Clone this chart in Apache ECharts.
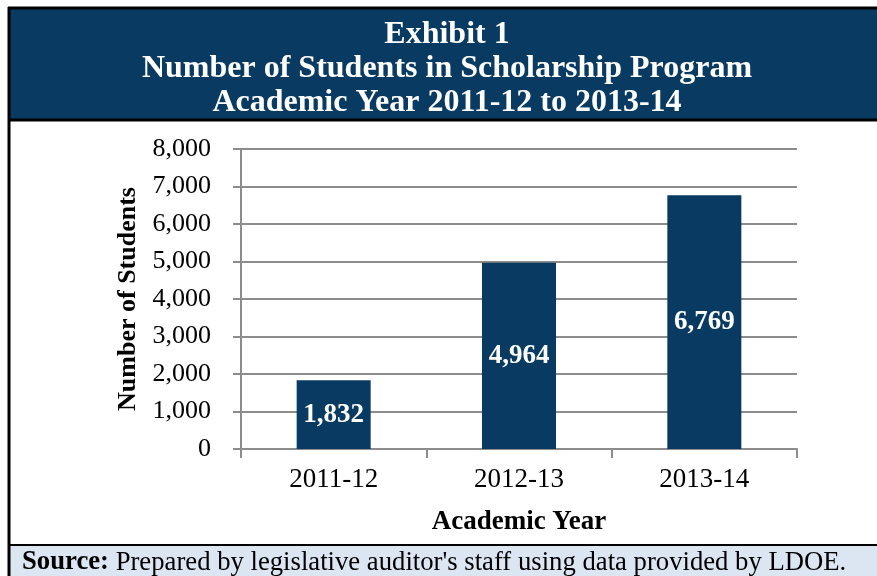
<!DOCTYPE html>
<html>
<head>
<meta charset="utf-8">
<script src="https://cdn.jsdelivr.net/npm/echarts@6/dist/echarts.min.js"></script>
<style>html,body{margin:0;padding:0;background:#fff}#c{width:877px;height:576px}</style>
</head>
<body>
<div id="c"></div>
<script>
var categories = ['2011-12', '2012-13', '2013-14'];
var students = [1832, 4964, 6769];
var yTicks = [0, 1000, 2000, 3000, 4000, 5000, 6000, 7000, 8000];
var titleLines = ['Exhibit 1', 'Number of Students in Scholarship Program', 'Academic Year 2011-12 to 2013-14'];

var F = '"Liberation Serif", "Times New Roman", serif';
var chart = echarts.init(document.getElementById('c'), null, {renderer: 'canvas'});
function fmt(v){ return Number(v).toLocaleString('en-US'); }
chart.setOption({
  animation: false,
  backgroundColor: '#fff',
  graphic: [
    {type: 'rect', shape: {x: 10, y: 9, width: 867, height: 111}, style: {fill: '#083a62'}, z: 0},
    {type: 'rect', shape: {x: 10, y: 546, width: 867, height: 30}, style: {fill: '#dce6f2'}, z: 0},
    {type: 'line', shape: {x1: 8, y1: 8, x2: 877, y2: 8}, style: {stroke: '#000', lineWidth: 3}, z: 1},
    {type: 'line', shape: {x1: 9, y1: 7, x2: 9, y2: 576}, style: {stroke: '#000', lineWidth: 3}, z: 1},
    {type: 'line', shape: {x1: 8, y1: 120, x2: 877, y2: 120}, style: {stroke: '#000', lineWidth: 3}, z: 1},
    {type: 'line', shape: {x1: 8, y1: 545, x2: 877, y2: 545}, style: {stroke: '#000', lineWidth: 2}, z: 1},
    {type: 'text', left: 22, top: 549, z: 2, style: {
      text: '{b|Source:} Prepared by legislative auditor\'s staff using data provided by LDOE.',
      font: '26.7px ' + F, fill: '#000',
      rich: {b: {fontWeight: 'bold', fontFamily: F, fontSize: 26.7, fill: '#000'}}
    }},
    {type: 'text', x: 447, y: 18, z: 2, style: {
      text: titleLines.join('\n'), align: 'center', verticalAlign: 'top',
      fill: '#fff', fontFamily: F, fontWeight: 'bold', fontSize: 32, lineHeight: 34
    }}
  ],
  grid: {left: 241, right: 80, top: 149, bottom: 127, containLabel: false},
  xAxis: {
    type: 'category', data: categories,
    name: 'Academic Year', nameLocation: 'middle', nameGap: 60,
    nameTextStyle: {fontFamily: F, fontWeight: 'bold', fontSize: 27, color: '#000'},
    axisLine: {lineStyle: {color: '#8c8c8c', width: 2}},
    axisTick: {show: true, length: 9, lineStyle: {color: '#8c8c8c', width: 2}},
    axisLabel: {fontFamily: F, fontSize: 27, color: '#000', margin: 17}
  },
  yAxis: {
    type: 'value', min: yTicks[0], max: yTicks[yTicks.length - 1], interval: 1000,
    name: 'Number of Students', nameLocation: 'middle', nameGap: 100, nameRotate: 90,
    nameTextStyle: {fontFamily: F, fontWeight: 'bold', fontSize: 26, color: '#000'},
    axisLine: {show: true, lineStyle: {color: '#8c8c8c', width: 2}},
    axisTick: {show: true, length: 8, lineStyle: {color: '#8c8c8c', width: 2}},
    axisLabel: {fontFamily: F, fontSize: 26, color: '#000', margin: 30, formatter: fmt},
    splitLine: {lineStyle: {color: '#8c8c8c', width: 2}}
  },
  series: [{
    type: 'bar', data: students, barWidth: 74,
    itemStyle: {color: '#083a62'},
    label: {show: true, position: 'inside', formatter: function(p){ return fmt(p.value); },
      fontFamily: F, fontWeight: 'bold', fontSize: 27, color: '#fff'}
  }]
});
</script>
</body>
</html>
